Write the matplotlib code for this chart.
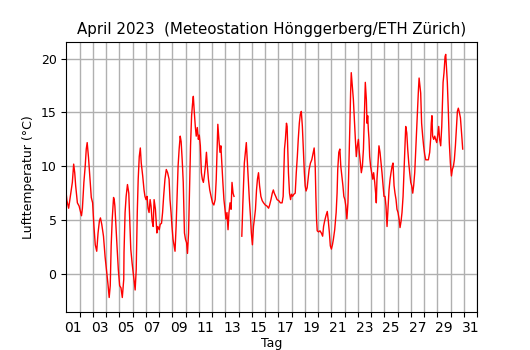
import numpy as np
import matplotlib
matplotlib.use("Agg")
import matplotlib.pyplot as plt

# Lufttemperatur April 2023 (Tag als Bruchteil, 0 = 1. April 00:00)
tag = [0.00, 0.05, 0.18, 0.31, 0.46, 0.56, 0.64, 0.71, 0.84, 0.97, 1.07, 1.15, 1.22, 1.33, 1.43,
       1.51, 1.58, 1.68, 1.79, 1.89, 1.99, 2.09, 2.19, 2.30, 2.40, 2.50, 2.58, 2.68, 2.81, 2.93,
       3.06, 3.16, 3.24, 3.32, 3.39, 3.47, 3.57, 3.62, 3.67, 3.75, 3.83, 3.93, 4.03, 4.13, 4.23,
       4.34, 4.36, 4.44, 4.52, 4.62, 4.72, 4.80, 4.87, 4.97, 5.05, 5.13, 5.20, 5.28, 5.36, 5.43,
       5.51, 5.59, 5.66, 5.77, 5.87, 5.94, 6.02, 6.10, 6.17, 6.25, 6.33, 6.40, 6.48, 6.56, 6.63,
       6.73, 6.84, 6.91, 7.02, 7.09, 7.19, 7.27, 7.35, 7.45, 7.55, 7.65, 7.76, 7.83, 7.91, 7.98,
       8.06, 8.14, 8.21, 8.29, 8.37, 8.44, 8.52, 8.60, 8.67, 8.75, 8.83, 8.92, 9.00, 9.08, 9.15,
       9.23, 9.31, 9.38, 9.46, 9.53, 9.59, 9.66, 9.74, 9.81, 9.89, 9.97, 10.04, 10.12, 10.20, 10.27,
       10.35, 10.42, 10.50, 10.58, 10.65, 10.73, 10.83, 10.93, 11.04, 11.14, 11.24, 11.32, 11.39, 11.44, 11.52,
       11.60, 11.67, 11.75, 11.82, 11.90, 11.98, 12.05, 12.13, 12.21, 12.28, 12.36, 12.44, 12.51, 12.59, 12.66,
       13.00,
       13.25, 13.33, 13.40, 13.44, 13.52, 13.59, 13.67, 13.75, 13.82, 13.90, 13.97, 14.05, 14.13, 14.20,
       14.28, 14.36, 14.43, 14.51, 14.59, 14.69, 14.79, 14.89, 15.02, 15.15, 15.27, 15.35, 15.45, 15.55, 15.63,
       15.70, 15.81, 15.91, 16.04, 16.16, 16.29, 16.37, 16.42, 16.47, 16.54, 16.62, 16.67, 16.72, 16.77, 16.85,
       16.93, 17.00, 17.08, 17.18, 17.28, 17.36, 17.44, 17.51, 17.59, 17.66, 17.74, 17.82, 17.89, 17.97, 18.03,
       18.10, 18.18, 18.25, 18.33, 18.43, 18.53, 18.64, 18.71, 18.79, 18.84, 18.89, 18.94, 19.04, 19.15, 19.25,
       19.35, 19.42, 19.50, 19.60, 19.70, 19.78, 19.86, 19.93, 20.01, 20.09, 20.16, 20.26, 20.37, 20.44, 20.49,
       20.57, 20.65, 20.72, 20.80, 20.88, 20.95, 21.03, 21.10, 21.18, 21.26, 21.33, 21.41, 21.46, 21.51, 21.59,
       21.67, 21.74, 21.82, 21.89, 21.97, 22.05, 22.12, 22.20, 22.27, 22.35, 22.43, 22.52, 22.57, 22.65, 22.70,
       22.75, 22.80, 22.85, 22.90, 22.97, 23.05, 23.13, 23.20, 23.28, 23.35, 23.40, 23.45, 23.53, 23.60, 23.68,
       23.76, 23.83, 23.91, 23.98, 24.06, 24.13, 24.21, 24.28, 24.36, 24.44, 24.51, 24.59, 24.66, 24.74, 24.81,
       24.89, 24.96, 25.04, 25.12, 25.19, 25.27, 25.34, 25.42, 25.49, 25.57, 25.62, 25.70, 25.77, 25.85, 25.92,
       26.00, 26.07, 26.15, 26.22, 26.30, 26.38, 26.45, 26.53, 26.58, 26.63, 26.75, 26.82, 26.90, 26.97, 27.05,
       27.13, 27.23, 27.33, 27.43, 27.50, 27.55, 27.60, 27.65, 27.73, 27.81, 27.88, 27.96, 28.03, 28.11, 28.18,
       28.26, 28.34, 28.39, 28.44, 28.51, 28.59, 28.64, 28.69, 28.76, 28.84, 28.91, 28.99, 29.07, 29.14, 29.22,
       29.29, 29.37, 29.44, 29.52, 29.59, 29.67, 29.75, 29.82, 29.87, 29.92]

temp = [7.4, 6.8, 6.1, 7.2, 8.5, 10.2, 9.4, 8.2, 6.6, 6.3, 5.8, 5.4, 6.1, 8.5, 10.0,
        11.6, 12.2, 10.8, 8.8, 7.1, 6.6, 4.4, 2.7, 2.1, 3.8, 4.9, 5.2, 4.6, 3.5, 1.6,
        0.1, -1.1, -2.2, -1.1, 2.6, 5.1, 7.1, 6.9, 6.3, 4.4, 2.6, 0.4, -1.1, -1.3, -2.2,
        -0.5, 2.0, 5.7, 7.2, 8.3, 7.5, 4.7, 2.3, 1.0, 0.1, -0.8, -1.5, 0.4, 5.7, 8.8,
        10.9, 11.7, 10.3, 9.1, 7.8, 7.2, 6.9, 7.2, 6.1, 5.7, 6.9, 6.3, 4.9, 4.4, 6.9,
        6.0, 3.8, 4.4, 4.1, 4.6, 4.7, 5.7, 7.2, 8.8, 9.7, 9.4, 8.8, 6.9, 5.7, 4.4,
        3.2, 2.6, 2.1, 4.4, 7.5, 10.0, 11.6, 12.8, 12.3, 10.6, 8.5, 3.8, 3.2, 2.9, 1.9,
        3.8, 8.2, 11.9, 14.7, 15.8, 16.5, 15.1, 13.7, 12.8, 13.6, 12.5, 12.9, 11.9, 9.4, 8.8,
        8.5, 9.1, 10.0, 11.3, 10.0, 8.8, 7.8, 7.2, 6.6, 6.4, 6.9, 8.8, 11.9, 13.9, 12.5,
        11.3, 11.9, 10.0, 8.5, 6.9, 6.0, 5.1, 5.7, 4.1, 5.7, 6.6, 6.0, 8.5, 7.5, 7.2,
        np.nan,
        3.5, 6.6, 8.8, 10.3, 11.3, 12.2, 10.3, 8.5, 6.9, 5.4, 3.8, 2.7, 4.4, 5.1,
        6.0, 7.8, 8.8, 9.4, 8.2, 7.2, 6.8, 6.6, 6.4, 6.3, 6.1, 6.4, 6.9, 7.5, 7.8,
        7.5, 7.2, 6.9, 6.8, 6.6, 6.6, 7.2, 9.4, 11.6, 12.5, 14.0, 13.7, 11.6, 9.4, 7.5,
        6.9, 7.4, 7.2, 7.4, 7.5, 9.4, 10.9, 12.5, 14.0, 14.8, 15.1, 13.7, 11.6, 9.4, 8.2,
        7.7, 8.0, 8.8, 9.7, 10.3, 10.6, 11.3, 11.7, 10.0, 7.2, 5.1, 4.0, 3.9, 4.0, 3.8,
        3.5, 4.4, 4.9, 5.4, 5.8, 4.9, 3.8, 2.6, 2.3, 2.7, 3.2, 4.1, 5.7, 7.5, 9.7,
        11.3, 11.6, 10.0, 9.1, 8.2, 7.2, 6.9, 6.3, 5.1, 6.6, 10.0, 14.0, 16.8, 18.7, 17.5,
        16.2, 14.4, 12.5, 10.9, 11.9, 12.5, 11.3, 10.3, 9.4, 10.0, 11.6, 15.6, 17.8, 16.2, 14.0,
        14.7, 13.4, 12.5, 10.9, 10.0, 9.4, 8.8, 9.4, 8.5, 7.5, 6.6, 8.8, 10.3, 11.9, 11.3,
        10.3, 9.4, 8.2, 7.2, 7.2, 6.3, 4.4, 6.0, 7.8, 8.8, 9.4, 10.0, 10.3, 8.2, 7.5,
        6.9, 6.0, 5.7, 5.1, 4.3, 4.9, 5.7, 7.2, 9.4, 11.9, 13.7, 13.1, 11.6, 10.3, 9.4,
        8.5, 8.2, 7.5, 8.2, 9.4, 11.6, 13.4, 15.6, 17.1, 18.2, 16.8, 14.0, 12.8, 11.9, 11.1,
        10.6, 10.6, 10.6, 11.3, 12.5, 14.0, 14.7, 12.8, 12.5, 12.8, 12.5, 12.2, 12.8, 13.7, 12.5,
        11.9, 13.7, 15.6, 17.8, 18.7, 20.2, 20.4, 19.3, 17.8, 15.0, 12.2, 10.3, 9.1, 9.7, 10.0,
        10.6, 11.9, 13.4, 15.1, 15.4, 15.0, 14.5, 13.4, 12.5, 11.6]

# Beschriftung jeden zweiten Tag, jeweils in Tagesmitte
tag_labels = ["%02d" % d for d in range(1, 32, 2)]

fig = plt.figure(figsize=(5.3, 3.5), dpi=100)
ax = fig.add_subplot(111)

ax.plot(tag, temp, color="red", linewidth=1.0)

ax.set_xlim(0, 31)
ax.set_ylim(-3.5, 21.55)
ax.set_xticks(np.arange(1, 32))
ax.set_xticklabels([])
ax.set_xticks(np.arange(0.5, 31, 2), minor=True)
ax.set_xticklabels(tag_labels, minor=True)
ax.tick_params(axis="x", which="minor", length=0, pad=6.5)
ax.set_yticks([0, 5, 10, 15, 20])
ax.grid(True, which="major", color="#b0b0b0", linewidth=1)
ax.set_axisbelow(True)

ax.set_title("April 2023  (Meteostation Hönggerberg/ETH Zürich)", fontsize=10.8)
ax.set_xlabel("Tag", fontsize=9, labelpad=2)
ax.set_ylabel("Lufttemperatur (°C)", fontsize=9)
ax.tick_params(labelsize=9)

plt.subplots_adjust(left=0.125, right=0.9, bottom=0.11, top=0.88)
plt.savefig("out.png", dpi=100)
